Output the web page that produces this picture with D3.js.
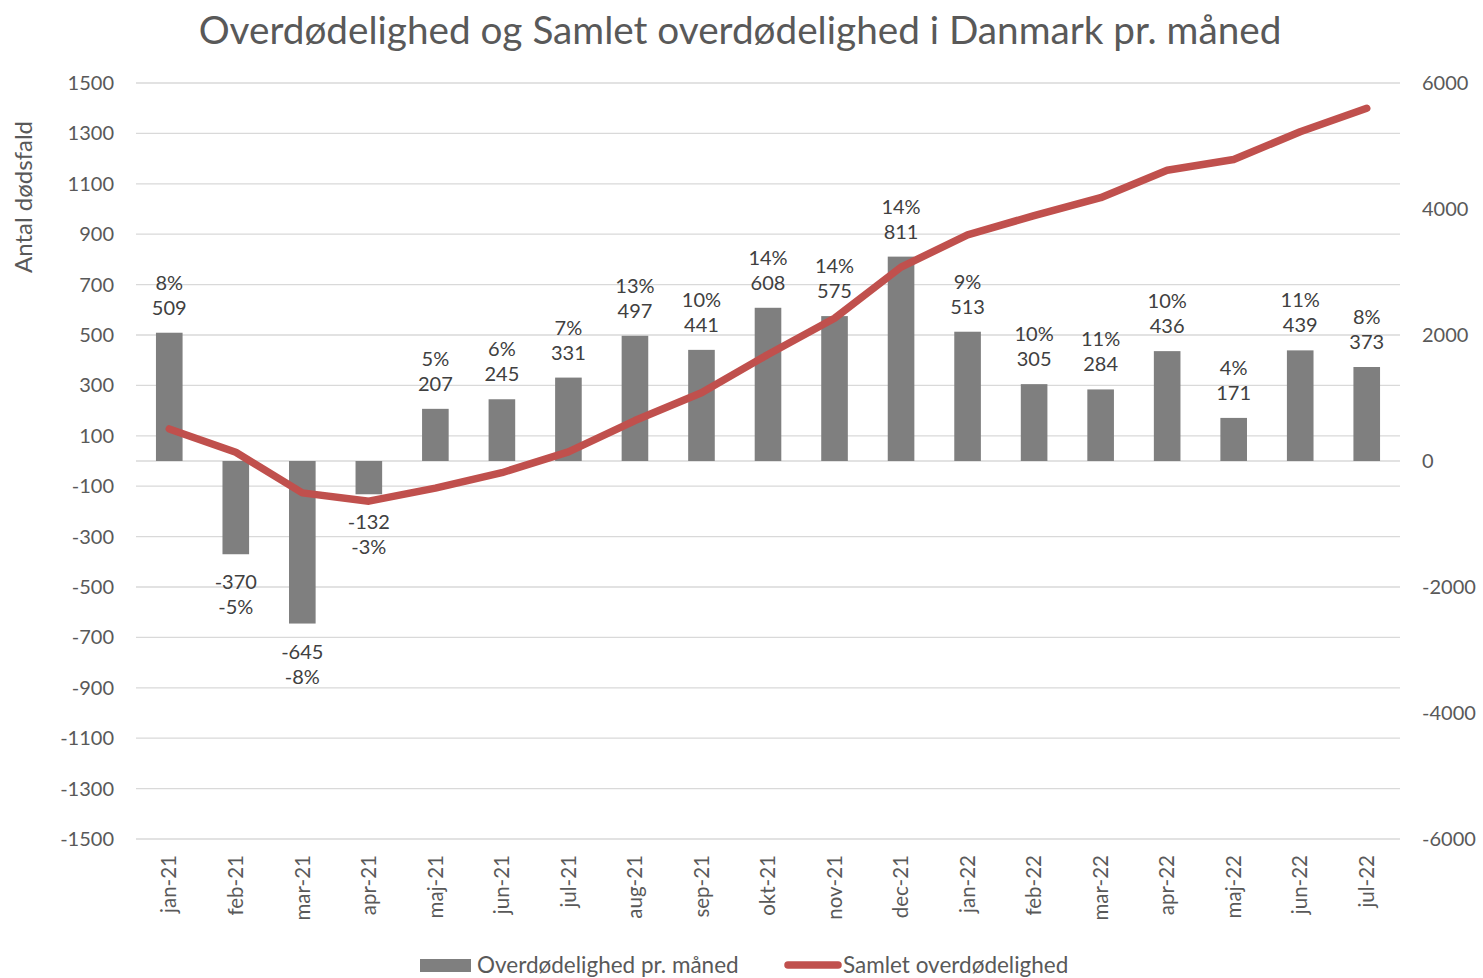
<!DOCTYPE html>
<html><head><meta charset="utf-8">
<script src="https://cdn.jsdelivr.net/npm/d3@7"></script>
<style>
body{margin:0;background:#fff;}
svg{display:block;}
</style></head>
<body>
<svg id="chart" width="1483" height="978"></svg>
<script>
const months = ["jan-21","feb-21","mar-21","apr-21","maj-21","jun-21","jul-21","aug-21","sep-21","okt-21","nov-21","dec-21","jan-22","feb-22","mar-22","apr-22","maj-22","jun-22","jul-22"];
const monthly = [509,-370,-645,-132,207,245,331,497,441,608,575,811,513,305,284,436,171,439,373];
const percents = ["8%","-5%","-8%","-3%","5%","6%","7%","13%","10%","14%","14%","14%","9%","10%","11%","10%","4%","11%","8%"];
const cumulative = [509,139,-506,-638,-431,-186,145,642,1083,1691,2266,3077,3590,3895,4179,4615,4786,5225,5598];
const leftTicks = [1500,1300,1100,900,700,500,300,100,-100,-300,-500,-700,-900,-1100,-1300,-1500];
const rightTicks = [6000,4000,2000,0,-2000,-4000,-6000];

const svg = d3.select("#chart");
const font = "Lato, 'Open Sans', sans-serif";
const L = 136, R = 1400, T = 83, B = 839;

const x = d3.scaleBand().domain(months).range([L, R]).paddingInner(0.6).paddingOuter(0.3);
const y = d3.scaleLinear().domain([-1500,1500]).range([B, T]);
const y2 = d3.scaleLinear().domain([-6000,6000]).range([B, T]);
const fmt = d => String(d);

// gridlines
svg.append("g").selectAll("line").data(leftTicks).join("line")
  .attr("x1", L).attr("x2", R)
  .attr("y1", d => y(d)).attr("y2", d => y(d))
  .attr("stroke", "#d9d9d9").attr("stroke-width", 1.3);

// zero axis line
svg.append("line").attr("x1", L).attr("x2", R).attr("y1", y(0)).attr("y2", y(0))
  .attr("stroke", "#d9d9d9").attr("stroke-width", 1.3);

// left axis
const ga = svg.append("g").attr("transform", `translate(${L},0)`)
  .call(d3.axisLeft(y).tickValues(leftTicks).tickSize(0).tickPadding(22).tickFormat(fmt));
ga.select(".domain").remove();
ga.selectAll("text").attr("font-family", font).attr("font-size", 20).attr("fill", "#595959");

// right axis
const gr = svg.append("g").attr("transform", `translate(${R},0)`)
  .call(d3.axisRight(y2).tickValues(rightTicks).tickSize(0).tickPadding(22).tickFormat(fmt));
gr.select(".domain").remove();
gr.selectAll("text").attr("font-family", font).attr("font-size", 20).attr("fill", "#595959");

// x axis
const gx = svg.append("g").attr("transform", `translate(0,${B})`)
  .call(d3.axisBottom(x).tickSize(0).tickPadding(0));
gx.select(".domain").remove();
gx.selectAll("text")
  .attr("font-family", font).attr("font-size", 20.5).attr("fill", "#595959")
  .attr("transform", "rotate(-90)")
  .attr("text-anchor", "end")
  .attr("x", -16).attr("y", 0).attr("dy", "0.35em");

// bars
svg.append("g").selectAll("rect").data(months).join("rect")
  .attr("x", d => x(d))
  .attr("width", x.bandwidth())
  .attr("y", (d,i) => y(Math.max(0, monthly[i])))
  .attr("height", (d,i) => Math.abs(y(monthly[i]) - y(0)))
  .attr("fill", "#7f7f7f");

// line
const line = d3.line().x((d,i) => x(months[i]) + x.bandwidth()/2).y(d => y2(d));
svg.append("path").datum(cumulative).attr("d", line)
  .attr("fill", "none").attr("stroke", "#c0504d").attr("stroke-width", 7.5)
  .attr("stroke-linecap", "round").attr("stroke-linejoin", "round");

// data labels
const lab = svg.append("g").attr("font-family", font).attr("font-size", 20).attr("fill", "#404040").attr("text-anchor", "middle");
months.forEach((m,i) => {
  const cx = x(m) + x.bandwidth()/2;
  const v = monthly[i];
  if (v >= 0) {
    const top = y(v);
    lab.append("text").attr("x", cx).attr("y", top - 18).text(v);
    lab.append("text").attr("x", cx).attr("y", top - 43).text(percents[i]);
  } else {
    const bot = y(v);
    lab.append("text").attr("x", cx).attr("y", bot + 35).text(v);
    lab.append("text").attr("x", cx).attr("y", bot + 60).text(percents[i]);
  }
});

// title
svg.append("text").attr("x", 740).attr("y", 44).attr("text-anchor", "middle")
  .attr("font-family", font).attr("font-size", 38.7).attr("fill", "#595959")
  .text("Overdødelighed og Samlet overdødelighed i Danmark pr. måned");

// y axis title
svg.append("text").attr("transform", "translate(32,197) rotate(-90)").attr("text-anchor", "middle")
  .attr("font-family", font).attr("font-size", 24).attr("fill", "#595959")
  .text("Antal dødsfald");

// legend
const lg = svg.append("g").attr("font-family", font).attr("font-size", 22.5).attr("fill", "#595959");
lg.append("rect").attr("x", 420).attr("y", 959).attr("width", 51).attr("height", 13).attr("fill", "#7f7f7f");
lg.append("text").attr("x", 477).attr("y", 973).text("Overdødelighed pr. måned");
lg.append("line").attr("x1", 788).attr("x2", 838).attr("y1", 965).attr("y2", 965)
  .attr("stroke", "#c0504d").attr("stroke-width", 7.5).attr("stroke-linecap", "round");
lg.append("text").attr("x", 843).attr("y", 973).text("Samlet overdødelighed");
</script>
</body></html>
